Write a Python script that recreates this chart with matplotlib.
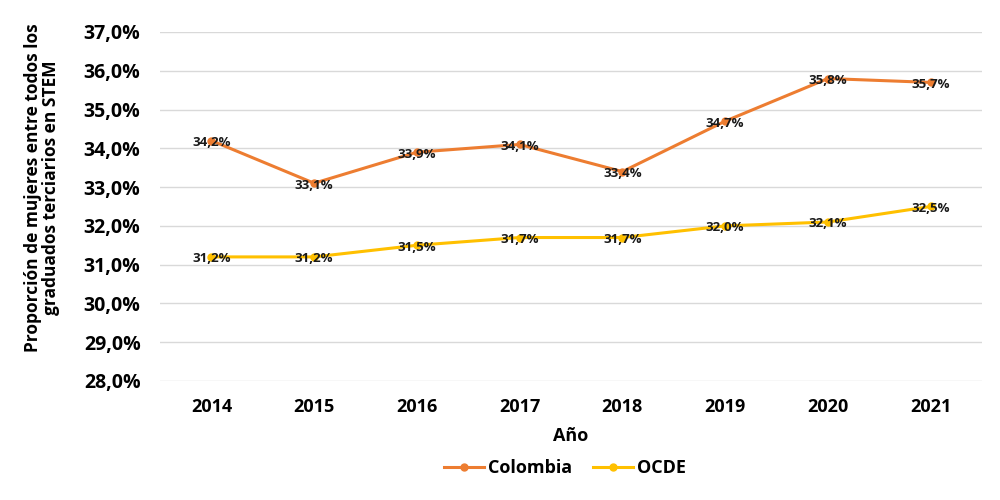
import matplotlib; matplotlib.use("Agg")
import matplotlib.pyplot as plt
from matplotlib.ticker import FuncFormatter

years = ["2014", "2015", "2016", "2017", "2018", "2019", "2020", "2021"]
colombia = [34.2, 33.1, 33.9, 34.1, 33.4, 34.7, 35.8, 35.7]
ocde = [31.2, 31.2, 31.5, 31.7, 31.7, 32.0, 32.1, 32.5]

plt.rcParams["font.family"] = ["Open Sans", "DejaVu Sans"]

fig = plt.figure(figsize=(10, 5), dpi=100)
ax = fig.add_axes([0.16, 0.238, 0.822, 0.698])
x = range(len(years))
ax.plot(x, colombia, color="#ED7D31", lw=2.2, marker="o", ms=5, label="Colombia")
ax.plot(x, ocde, color="#FFC000", lw=2.2, marker="o", ms=5, label="OCDE")

for i, v in enumerate(colombia):
    ax.text(i, v - 0.05, f"{v:.1f}%".replace(".", ","), ha="center", va="center",
            fontsize=9.5, fontweight="bold", color="#1a1a1a")
for i, v in enumerate(ocde):
    ax.text(i, v - 0.05, f"{v:.1f}%".replace(".", ","), ha="center", va="center",
            fontsize=9.5, fontweight="bold", color="#1a1a1a")

ax.set_xlim(-0.5, len(years) - 0.5)
ax.set_ylim(28, 37)
ax.set_yticks(range(28, 38))
ax.yaxis.set_major_formatter(FuncFormatter(lambda v, p: f"{v:.1f}%".replace(".", ",")))
ax.set_xticks(list(x))
ax.set_xticklabels(years)
ax.tick_params(length=0, labelsize=13, pad=12)
ax.tick_params(axis="y", labelsize=14, pad=14)
for lab in ax.get_xticklabels() + ax.get_yticklabels():
    lab.set_fontweight("bold")
ax.grid(axis="y", color="#d9d9d9", lw=1)
ax.set_axisbelow(True)
for s in ax.spines.values():
    s.set_visible(False)

ax.set_xlabel("Año", fontsize=13, fontweight="bold", labelpad=8)
fig.text(0.042, 0.625, "Proporción de mujeres entre todos los\ngraduados terciarios en STEM",
         rotation=90, ha="center", va="center", fontsize=12.5, fontweight="bold",
         linespacing=1.05)
fig.legend(loc="center", bbox_to_anchor=(0.565, 0.064), ncol=2, frameon=False,
           prop={"size": 13, "weight": "bold"}, handlelength=2.2, columnspacing=1.2,
           handletextpad=0.2)

fig.savefig("out.png", dpi=100)
